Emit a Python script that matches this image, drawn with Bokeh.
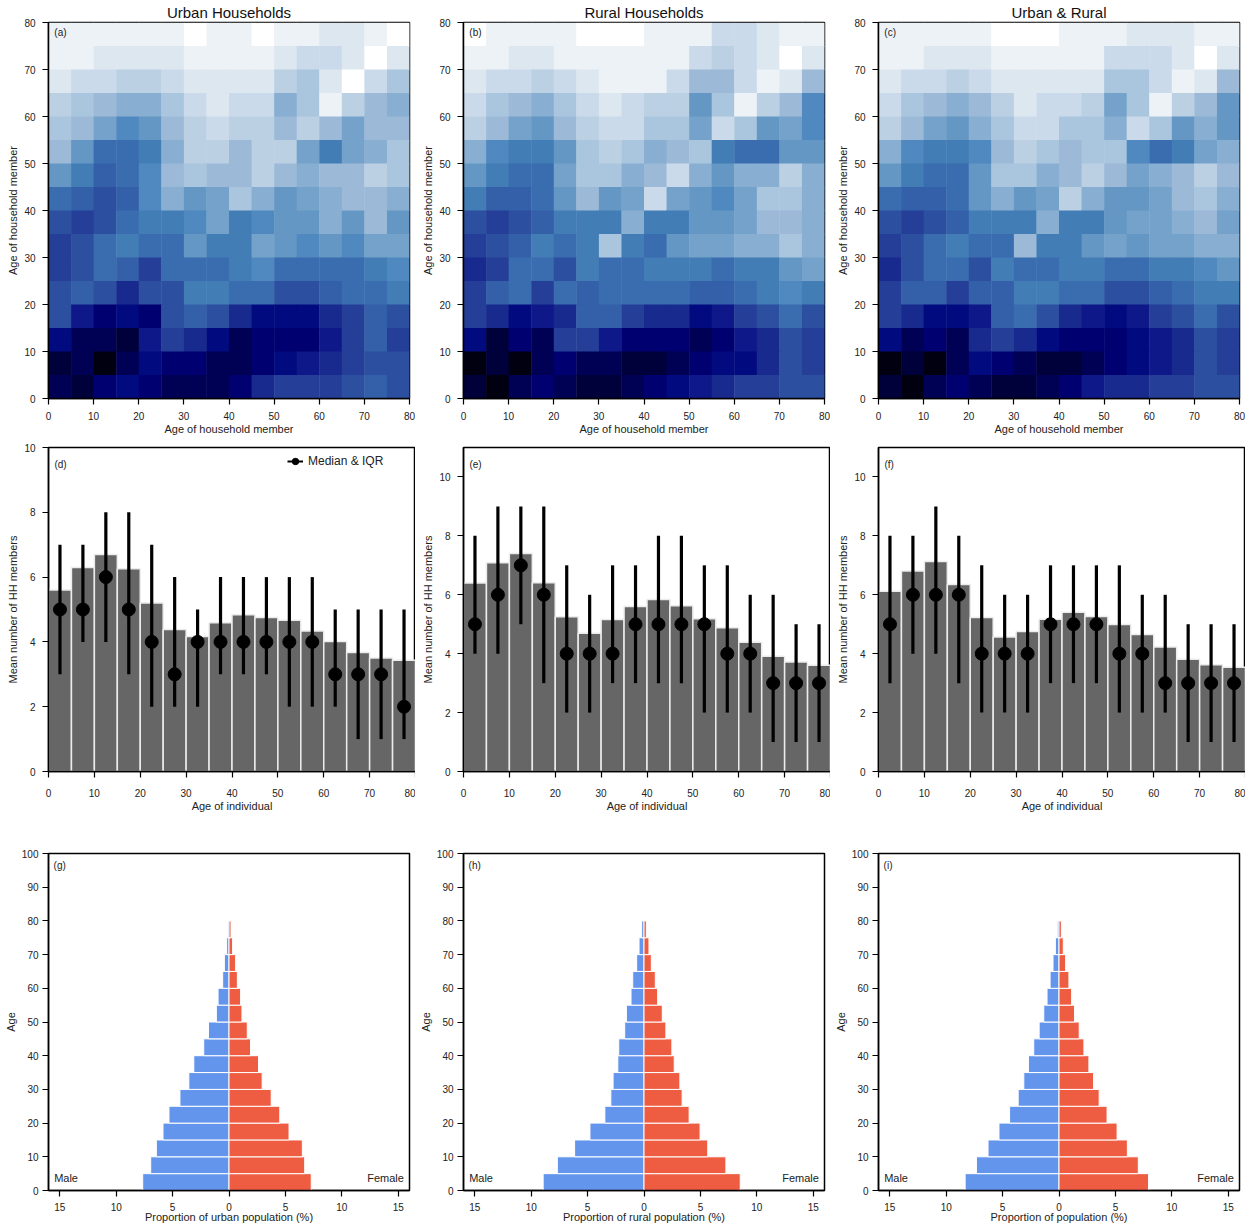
import numpy as np
from bokeh.plotting import figure
from bokeh.models import (ColumnDataSource, LinearColorMapper, Range1d, FixedTicker,
                          Label, Legend, LegendItem)
from bokeh.layouts import row, column
from bokeh.embed import file_html
from bokeh.resources import INLINE

FONT = "Liberation Sans"

# ---------------- data ----------------
age_lower = [0, 5, 10, 15, 20, 25, 30, 35, 40, 45, 50, 55, 60, 65, 70, 75]

# Heatmap intensity levels (0 = white ... 22 = black); rows listed from 75-80 (top) down to 0-5
urban_matrix = [
    [1, 1, 1, 1, 1, 1, 0, 1, 1, 0, 1, 1, 2, 2, 1, 0],
    [1, 1, 2, 2, 2, 2, 1, 1, 1, 1, 2, 3, 3, 2, 0, 2],
    [2, 3, 3, 4, 4, 3, 2, 2, 2, 2, 4, 5, 2, 0, 3, 5],
    [4, 5, 6, 7, 7, 5, 3, 2, 3, 3, 7, 5, 1, 4, 6, 7],
    [5, 6, 8, 10, 9, 6, 4, 3, 4, 4, 6, 4, 6, 8, 6, 6],
    [6, 9, 12, 12, 11, 7, 4, 4, 6, 4, 4, 8, 11, 8, 7, 5],
    [9, 11, 13, 12, 10, 6, 5, 6, 6, 4, 6, 7, 6, 6, 4, 5],
    [12, 13, 14, 13, 10, 7, 9, 8, 5, 7, 9, 8, 7, 6, 6, 7],
    [14, 15, 14, 12, 11, 11, 10, 8, 11, 10, 9, 9, 7, 9, 6, 9],
    [15, 14, 12, 11, 12, 12, 9, 11, 11, 8, 9, 10, 9, 10, 8, 8],
    [15, 14, 12, 13, 15, 12, 12, 12, 11, 10, 12, 12, 12, 12, 11, 10],
    [14, 13, 14, 16, 14, 14, 11, 11, 12, 12, 14, 14, 13, 12, 12, 11],
    [14, 17, 19, 18, 19, 14, 13, 14, 16, 18, 18, 18, 16, 15, 13, 14],
    [18, 20, 20, 21, 17, 15, 16, 18, 20, 19, 19, 19, 17, 15, 13, 15],
    [21, 20, 22, 20, 18, 19, 19, 20, 20, 19, 18, 17, 16, 15, 14, 14],
    [20, 21, 19, 18, 19, 20, 20, 20, 19, 16, 15, 15, 15, 14, 13, 14],
]
rural_matrix = [
    [0, 1, 1, 1, 1, 0, 0, 0, 1, 1, 1, 3, 3, 2, 1, 1],
    [1, 1, 2, 2, 1, 1, 1, 1, 1, 1, 3, 4, 3, 2, 0, 2],
    [2, 3, 3, 4, 3, 2, 1, 1, 1, 3, 6, 6, 3, 1, 2, 6],
    [3, 5, 6, 7, 5, 3, 2, 3, 4, 4, 9, 5, 1, 4, 6, 10],
    [4, 6, 8, 9, 6, 4, 3, 3, 5, 5, 8, 3, 5, 9, 8, 10],
    [7, 10, 11, 11, 9, 5, 4, 5, 7, 6, 5, 11, 12, 12, 9, 9],
    [9, 11, 12, 12, 8, 5, 5, 7, 6, 3, 7, 9, 7, 7, 4, 7],
    [11, 13, 13, 12, 9, 6, 9, 8, 3, 8, 9, 10, 8, 5, 5, 7],
    [14, 15, 14, 13, 11, 11, 11, 7, 11, 11, 9, 9, 8, 6, 6, 7],
    [15, 14, 13, 11, 12, 11, 5, 11, 12, 9, 8, 8, 7, 7, 5, 7],
    [16, 15, 12, 12, 14, 11, 12, 12, 11, 11, 11, 12, 11, 11, 9, 8],
    [15, 13, 12, 15, 12, 13, 12, 12, 12, 12, 13, 13, 12, 11, 10, 11],
    [15, 16, 18, 17, 16, 13, 13, 15, 16, 16, 18, 17, 15, 14, 12, 14],
    [18, 21, 19, 20, 15, 15, 17, 19, 19, 19, 20, 19, 17, 16, 14, 15],
    [22, 21, 22, 20, 19, 20, 20, 21, 21, 20, 19, 18, 18, 16, 14, 15],
    [21, 22, 20, 19, 20, 21, 21, 20, 19, 18, 17, 16, 15, 15, 14, 14],
]
all_matrix = [
    [1, 1, 1, 1, 1, 0, 0, 0, 1, 1, 1, 2, 2, 2, 1, 1],
    [1, 1, 2, 2, 2, 1, 1, 1, 1, 1, 3, 3, 3, 2, 0, 2],
    [2, 3, 3, 4, 3, 2, 2, 2, 2, 2, 5, 5, 3, 1, 2, 6],
    [3, 5, 6, 7, 6, 4, 2, 3, 3, 4, 8, 5, 1, 4, 6, 9],
    [4, 6, 8, 9, 7, 5, 3, 3, 5, 5, 7, 3, 5, 9, 7, 9],
    [7, 10, 11, 11, 10, 6, 4, 5, 6, 5, 5, 10, 12, 11, 8, 7],
    [9, 11, 12, 12, 9, 5, 5, 7, 6, 4, 6, 8, 7, 6, 4, 6],
    [12, 13, 13, 12, 9, 7, 9, 8, 4, 7, 9, 9, 8, 6, 5, 7],
    [14, 15, 14, 13, 11, 11, 11, 7, 11, 11, 9, 8, 8, 7, 6, 8],
    [15, 14, 12, 11, 12, 12, 6, 11, 11, 9, 8, 9, 8, 8, 7, 7],
    [16, 14, 12, 12, 14, 11, 12, 12, 11, 11, 12, 12, 11, 11, 10, 9],
    [15, 13, 13, 15, 13, 13, 11, 11, 12, 12, 14, 14, 13, 12, 11, 11],
    [15, 16, 18, 18, 17, 13, 12, 14, 16, 17, 18, 17, 15, 14, 12, 14],
    [18, 20, 19, 20, 16, 15, 16, 18, 19, 19, 19, 18, 17, 16, 14, 15],
    [22, 21, 22, 20, 18, 19, 20, 21, 21, 20, 19, 18, 17, 16, 14, 15],
    [21, 22, 20, 19, 20, 21, 21, 20, 19, 17, 16, 16, 15, 15, 14, 14],
]

urban_mean = [5.6, 6.3, 6.7, 6.26, 5.2, 4.38, 4.17, 4.59, 4.84, 4.75, 4.67, 4.34, 4.01, 3.67, 3.5, 3.43]
urban_median = [5, 5, 6, 5, 4, 3, 4, 4, 4, 4, 4, 4, 3, 3, 3, 2]
urban_q1 = [3, 4, 4, 3, 2, 2, 2, 3, 3, 3, 2, 2, 2, 1, 1, 1]
urban_q3 = [7, 7, 8, 8, 7, 6, 5, 6, 6, 6, 6, 6, 5, 5, 5, 5]

rural_mean = [6.4, 7.09, 7.4, 6.41, 5.25, 4.69, 5.16, 5.6, 5.84, 5.63, 5.19, 4.88, 4.39, 3.91, 3.72, 3.61]
rural_median = [5, 6, 7, 6, 4, 4, 4, 5, 5, 5, 5, 4, 4, 3, 3, 3]
rural_q1 = [4, 4, 5, 3, 2, 2, 3, 3, 3, 3, 2, 2, 2, 1, 1, 1]
rural_q3 = [8, 9, 9, 9, 7, 6, 7, 7, 8, 8, 7, 7, 6, 6, 5, 5]

all_mean = [6.12, 6.81, 7.13, 6.35, 5.23, 4.57, 4.75, 5.17, 5.41, 5.26, 4.99, 4.65, 4.23, 3.81, 3.62, 3.54]
all_median = [5, 6, 6, 6, 4, 4, 4, 5, 5, 5, 4, 4, 3, 3, 3, 3]
all_q1 = [3, 4, 4, 3, 2, 2, 2, 3, 3, 3, 2, 2, 2, 1, 1, 1]
all_q3 = [8, 8, 9, 8, 7, 6, 6, 7, 7, 7, 7, 6, 6, 5, 5, 5]

urban_male = [7.65, 6.94, 6.44, 5.85, 5.32, 4.35, 3.56, 3.12, 2.24, 1.82, 1.12, 0.97, 0.56, 0.41, 0.21, 0.09]
urban_female = [7.29, 6.71, 6.5, 5.32, 4.5, 3.74, 2.94, 2.62, 1.91, 1.62, 1.15, 1.03, 0.74, 0.59, 0.32, 0.18]
rural_male = [8.94, 7.68, 6.15, 4.79, 3.47, 2.94, 2.74, 2.32, 2.24, 1.71, 1.56, 1.15, 1.0, 0.65, 0.44, 0.21]
rural_female = [8.53, 7.26, 5.65, 4.97, 4.0, 3.38, 3.18, 2.68, 2.47, 1.94, 1.62, 1.21, 1.0, 0.65, 0.44, 0.21]
all_male = [8.32, 7.32, 6.29, 5.32, 4.38, 3.62, 3.12, 2.71, 2.24, 1.76, 1.35, 1.06, 0.79, 0.53, 0.32, 0.15]
all_female = [7.94, 7.03, 6.06, 5.15, 4.26, 3.56, 3.06, 2.65, 2.21, 1.79, 1.38, 1.12, 0.88, 0.59, 0.38, 0.21]

titles = ["Urban Households", "Rural Households", "Urban & Rural"]
pyr_xlabels = ["Proportion of urban population (%)", "Proportion of rural population (%)",
               "Proportion of population (%)"]

# ---------------- colour map ----------------
anchors = ["#ffffff", "#edf2f7", "#dde7f0", "#cbdaea", "#bcd0e4", "#a9c6de", "#9cbad8",
           "#88aed1", "#74a2ca", "#6497c3", "#5089bf", "#427db6", "#3a6db0", "#3360a8",
           "#2c4f9f", "#253f98", "#192a8e", "#0f1888", "#020a80", "#000070", "#000055",
           "#00003a", "#000010"]


def hex2rgb(h):
    return [int(h[i:i + 2], 16) for i in (1, 3, 5)]


arr = np.array([hex2rgb(h) for h in anchors], dtype=float)
fine = np.linspace(0, len(anchors) - 1, 221)
palette = []
for f in fine:
    i0 = int(np.floor(f)); i1 = min(i0 + 1, len(anchors) - 1); t = f - i0
    c = arr[i0] * (1 - t) + arr[i1] * t
    palette.append("#%02x%02x%02x" % tuple(int(round(v)) for v in c))
mapper = LinearColorMapper(palette=palette, low=0, high=22)

LEFT = 48


# ---------------- helpers ----------------
def style_axes(p, tick_px="10px", lab_px="11px", xstand=7, xlab_stand=1, ystand=7, ylab_stand=5):
    p.xgrid.visible = False
    p.ygrid.visible = False
    p.outline_line_color = "black"
    p.outline_line_width = 1.5
    p.background_fill_color = "white"
    p.border_fill_color = "white"
    for ax in (p.xaxis[0], p.yaxis[0]):
        ax.axis_line_color = "black"
        ax.axis_line_width = 1.5
        ax.major_tick_line_color = "black"
        ax.major_tick_line_width = 1.2
        ax.major_tick_out = 6
        ax.major_tick_in = 0
        ax.minor_tick_line_color = None
        ax.major_label_text_font = FONT
        ax.major_label_text_font_size = tick_px
        ax.major_label_text_color = "#222222"
        ax.axis_label_text_font = FONT
        ax.axis_label_text_font_size = lab_px
        ax.axis_label_text_font_style = "normal"
        ax.axis_label_text_color = "#222222"
    p.xaxis[0].major_label_standoff = xstand
    p.xaxis[0].axis_label_standoff = xlab_stand
    p.yaxis[0].major_label_standoff = ystand
    p.yaxis[0].axis_label_standoff = ylab_stand


def panel_label(p, x, y, txt, align="left", size="10px"):
    p.add_layout(Label(x=x, y=y, text=txt, text_font=FONT, text_font_size=size,
                       text_baseline="middle", text_align=align, text_color="#222222"))


def heatmap(matrix, title, tag):
    xs, ys, vs = [], [], []
    for i, rowvals in enumerate(matrix):
        ylow = age_lower[len(age_lower) - 1 - i]
        for j, v in enumerate(rowvals):
            xs.append(age_lower[j] + 2.5)
            ys.append(ylow + 2.5)
            vs.append(v)
    src = ColumnDataSource(dict(x=xs, y=ys, v=vs))
    p = figure(width=415, height=437, x_range=Range1d(0, 80), y_range=Range1d(0, 80),
               output_backend="svg", toolbar_location=None, tools="",
               min_border_left=LEFT, min_border_right=6, min_border_top=0,
               min_border_bottom=37, title=title)
    p.title.align = "center"
    p.title.text_font = FONT
    p.title.text_font_size = "15px"
    p.title.text_font_style = "normal"
    p.title.text_color = "#111111"
    p.title.standoff = 3
    p.rect(x="x", y="y", width=5, height=5, source=src, line_color=None,
           fill_color={"field": "v", "transform": mapper}, dilate=True)
    style_axes(p, xstand=7, xlab_stand=0, ystand=7, ylab_stand=2)
    p.xaxis[0].ticker = FixedTicker(ticks=list(range(0, 81, 10)))
    p.yaxis[0].ticker = FixedTicker(ticks=list(range(0, 81, 10)))
    p.xaxis[0].axis_label = "Age of household member"
    p.yaxis[0].axis_label = "Age of household member"
    panel_label(p, 1.3, 77.9, tag)
    return p


def barpanel(mean, med, q1, q3, tag, ytop, legend=False):
    centers = [a + 2.5 for a in age_lower]
    src = ColumnDataSource(dict(x=centers, mean=mean, med=med, q1=q1, q3=q3))
    p = figure(width=415, height=402, x_range=Range1d(0, 80), y_range=Range1d(0, ytop),
               output_backend="svg", toolbar_location=None, tools="",
               min_border_left=LEFT, min_border_right=0, min_border_top=10,
               min_border_bottom=68)
    p.vbar(x="x", top="mean", bottom=0, width=5, source=src, fill_color="#666666",
           line_color="#ececec", line_width=1.5)
    p.segment(x0="x", y0="q1", x1="x", y1="q3", source=src, line_color="black",
              line_width=3.2)
    p.scatter(x="x", y="med", source=src, size=13, fill_color="black",
              line_color="black")
    style_axes(p, xstand=11, xlab_stand=0, ystand=7, ylab_stand=2)
    p.xaxis[0].ticker = FixedTicker(ticks=list(range(0, 81, 10)))
    p.yaxis[0].ticker = FixedTicker(ticks=[0, 2, 4, 6, 8, 10])
    p.xaxis[0].axis_label = "Age of individual"
    p.yaxis[0].axis_label = "Mean number of HH members"
    panel_label(p, 1.3, ytop - 17 * ytop / 324.0, tag)
    if legend:
        # off-range proxies so the legend key is drawn at a smaller scale
        lg_line = p.line(x=[-200, -199], y=[-200, -200], line_color="black", line_width=2)
        lg_dot = p.scatter(x=[-200], y=[-200], size=7, fill_color="black", line_color="black")
        leg = Legend(items=[LegendItem(label="Median & IQR", renderers=[lg_line, lg_dot])],
                     location=(239, 302), margin=0, padding=4, glyph_width=16,
                     glyph_height=16, label_standoff=5, border_line_color=None,
                     background_fill_alpha=0, label_text_font=FONT,
                     label_text_font_size="12px", label_text_color="#222222")
        p.add_layout(leg)
    return p


def pyramid(male, female, xlabel, tag):
    centers = [a + 2.5 for a in age_lower]
    src = ColumnDataSource(dict(y=centers, m=[-v for v in male], f=female))
    p = figure(width=415, height=386, x_range=Range1d(-16, 16), y_range=Range1d(0, 100),
               output_backend="svg", toolbar_location=None, tools="",
               min_border_left=LEFT, min_border_right=6, min_border_top=14,
               min_border_bottom=34)
    p.hbar(y="y", left="m", right=0, height=5, source=src, fill_color="#6495ed",
           line_color="white", line_width=1)
    p.hbar(y="y", left=0, right="f", height=5, source=src, fill_color="#ee5c42",
           line_color="white", line_width=1)
    style_axes(p, xstand=6, xlab_stand=-3, ystand=4, ylab_stand=2)
    p.xaxis[0].ticker = FixedTicker(ticks=[-15, -10, -5, 0, 5, 10, 15])
    p.xaxis[0].major_label_overrides = {-15: "15", -10: "10", -5: "5", 0: "0",
                                        5: "5", 10: "10", 15: "15"}
    p.yaxis[0].ticker = FixedTicker(ticks=list(range(0, 101, 10)))
    p.xaxis[0].axis_label = xlabel
    p.yaxis[0].axis_label = "Age"
    panel_label(p, -15.55, 96.4, tag)
    panel_label(p, -15.5, 3.6, "Male", size="11px")
    panel_label(p, 15.5, 3.6, "Female", align="right", size="11px")
    return p


row1 = row(heatmap(urban_matrix, titles[0], "(a)"),
           heatmap(rural_matrix, titles[1], "(b)"),
           heatmap(all_matrix, titles[2], "(c)"))
row2 = row(barpanel(urban_mean, urban_median, urban_q1, urban_q3, "(d)", 10, legend=True),
           barpanel(rural_mean, rural_median, rural_q1, rural_q3, "(e)", 11),
           barpanel(all_mean, all_median, all_q1, all_q3, "(f)", 11))
row3 = row(pyramid(urban_male, urban_female, pyr_xlabels[0], "(g)"),
           pyramid(rural_male, rural_female, pyr_xlabels[1], "(h)"),
           pyramid(all_male, all_female, pyr_xlabels[2], "(i)"))

layout = column(row1, row2, row3)
open("out.html", "w").write(file_html(layout, INLINE))
